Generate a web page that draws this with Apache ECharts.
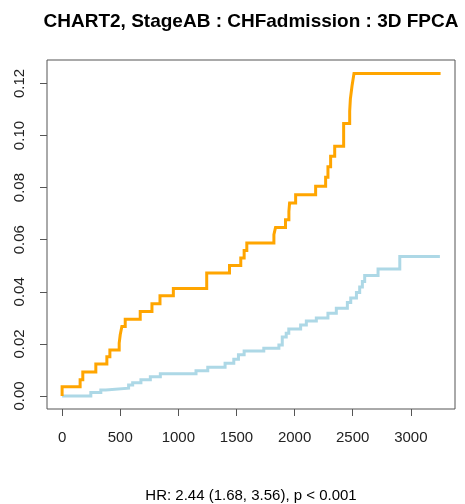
<!DOCTYPE html>
<html>
<head>
<meta charset="utf-8">
<script src="https://cdn.jsdelivr.net/npm/echarts@6/dist/echarts.min.js"></script>
<style>
html, body { margin: 0; padding: 0; background: #fff; }
#chart { width: 465px; height: 504px; }
</style>
</head>
<body>
<div id="chart"></div>
<script>
// 阶梯曲线数据
var orangeTimes = [0, 0, 155, 178, 290, 385, 411, 491, 500, 514, 543, 672, 773, 842, 957, 1244, 1440, 1537, 1566, 1589,
  1822, 1836, 1922, 1951, 1957, 2009, 2181, 2267, 2287, 2310, 2345, 2422, 2474, 2480, 2494, 2511, 3256];
var orangeValues = [0, 0.0035, 0.0062, 0.0092, 0.0123, 0.0151, 0.0177, 0.0203, 0.0235, 0.0267, 0.0295, 0.0324, 0.0354, 0.0385, 0.0413, 0.0472, 0.0501, 0.0530, 0.0559, 0.0587,
  0.0619, 0.0647, 0.0677, 0.0709, 0.0741, 0.0773, 0.0805, 0.0840, 0.0880, 0.0920, 0.0959, 0.1046, 0.1094, 0.1141, 0.1190, 0.1238, 0.1238];

var blueTimes = [0, 247, 333, 376, 572, 607, 678, 759, 845, 1152, 1253, 1402, 1477, 1517, 1566, 1735, 1865, 1894, 1928, 1950,
  2052, 2101, 2187, 2287, 2359, 2454, 2483, 2532, 2560, 2583, 2603, 2718, 2905, 3250];
var blueValues = [0, 0.0013, 0.0023, 0.0030, 0.0042, 0.0051, 0.0062, 0.0074, 0.0085, 0.0097, 0.0110, 0.0126, 0.0141, 0.0158, 0.0173, 0.0183, 0.0196, 0.0226, 0.0241, 0.0257,
  0.0273, 0.0288, 0.0299, 0.0318, 0.0337, 0.0359, 0.0376, 0.0397, 0.0418, 0.0440, 0.0463, 0.0488, 0.0536, 0.0536];

var xTicks = [0, 500, 1000, 1500, 2000, 2500, 3000];
var yTicks = [0, 0.02, 0.04, 0.06, 0.08, 0.10, 0.12];

var titleText = 'CHART2, StageAB : CHFadmission : 3D FPCA';
var subText = 'HR: 2.44 (1.68, 3.56), p < 0.001';

function zipPts(ts, vs) {
  var out = [];
  for (var i = 0; i < ts.length; i++) out.push([ts[i], vs[i]]);
  return out;
}

var chart = echarts.init(document.getElementById('chart'));
var fontFam = 'Liberation Sans, Arial, sans-serif';
var option = {
  backgroundColor: '#fff',
  animation: false,
  grid: {
    left: 47, right: 10, top: 60, bottom: 95,
    show: true, borderColor: '#555', borderWidth: 1, backgroundColor: 'transparent'
  },
  graphic: [
    { type: 'text', x: 251, y: 22, style: { text: titleText, font: 'bold 19px ' + fontFam, fill: '#000', textAlign: 'center', textVerticalAlign: 'middle' } },
    { type: 'text', x: 251, y: 496, style: { text: subText, font: '15px ' + fontFam, fill: '#000', textAlign: 'center', textVerticalAlign: 'middle' } }
  ],
  xAxis: {
    type: 'value', min: -130, max: 3380,
    axisLine: { show: false, onZero: false },
    splitLine: { show: false },
    axisTick: { show: true, inside: false, length: 7, customValues: xTicks, lineStyle: { color: '#555' } },
    axisLabel: { customValues: xTicks, margin: 21, fontSize: 15, fontFamily: fontFam, color: '#222',
      formatter: function (v) { return String(v); } }
  },
  yAxis: {
    type: 'value', min: -0.005, max: 0.129,
    axisLine: { show: false, onZero: false },
    splitLine: { show: false },
    axisTick: { show: true, inside: false, length: 7, customValues: yTicks, lineStyle: { color: '#555' } },
    axisLabel: {
      customValues: yTicks, rotate: 90, margin: 20, fontSize: 15, fontFamily: fontFam, color: '#222',
      formatter: function (v) { return v.toFixed(2); }
    }
  },
  series: [
    {
      type: 'line', step: 'end', showSymbol: false, data: zipPts(blueTimes, blueValues),
      lineStyle: { color: '#ADD8E6', width: 3, join: 'miter' }, z: 2
    },
    {
      type: 'line', step: 'end', showSymbol: false, data: zipPts(orangeTimes, orangeValues),
      lineStyle: { color: '#FFA500', width: 3, join: 'miter' }, z: 3
    }
  ]
};
chart.setOption(option);
</script>
</body>
</html>
